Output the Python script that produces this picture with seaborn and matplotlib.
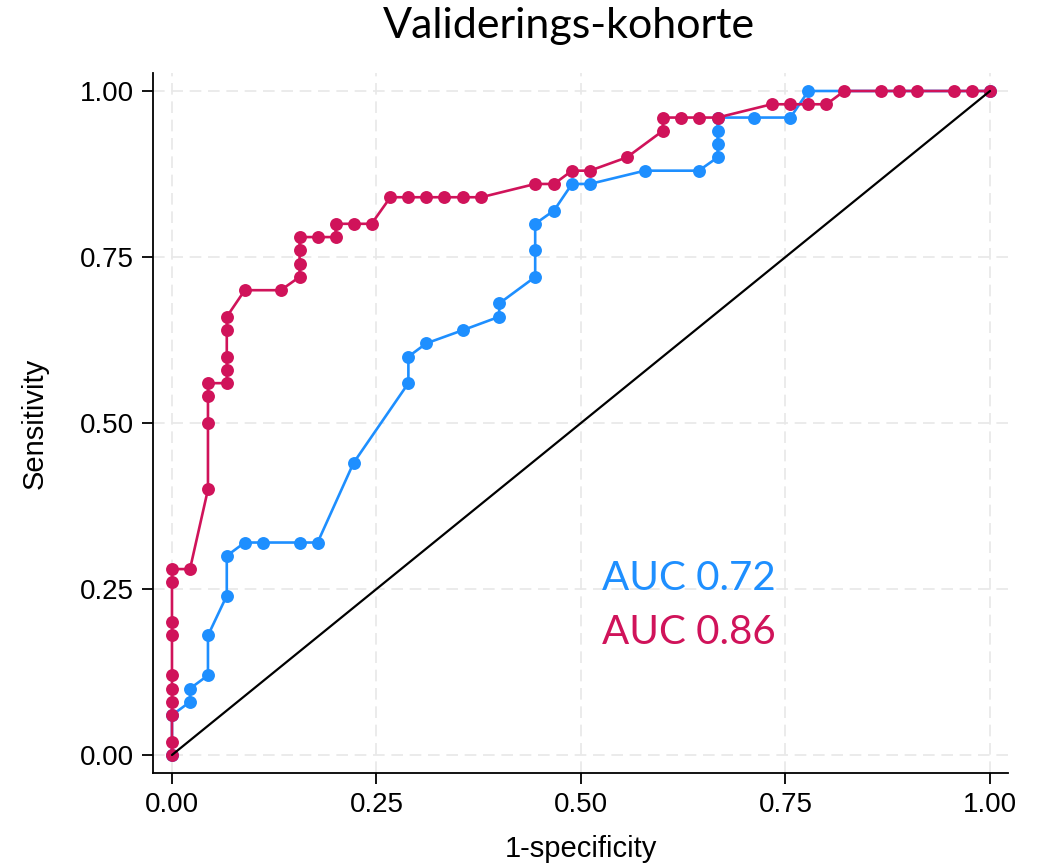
import matplotlib
matplotlib.use("Agg")
import matplotlib.pyplot as plt
import seaborn as sns
import pandas as pd

# ROC curve points (1-specificity, sensitivity)
red_fpr = [0.0, 0.0, 0.0, 0.0, 0.0, 0.0, 0.0, 0.0, 0.0, 0.0,
           0.022, 0.044, 0.044, 0.044, 0.044, 0.067, 0.067, 0.067, 0.067, 0.067,
           0.089, 0.133, 0.156, 0.156, 0.156, 0.156, 0.178, 0.2, 0.2, 0.222,
           0.244, 0.267, 0.289, 0.311, 0.333, 0.356, 0.378, 0.444, 0.467, 0.489,
           0.511, 0.556, 0.6, 0.6, 0.622, 0.644, 0.667, 0.733, 0.756, 0.778,
           0.8, 0.822, 0.867, 0.889, 0.911, 0.956, 0.978, 1.0]
red_tpr = [0.0, 0.02, 0.06, 0.08, 0.10, 0.12, 0.18, 0.20, 0.26, 0.28,
           0.28, 0.40, 0.50, 0.54, 0.56, 0.56, 0.58, 0.60, 0.64, 0.66,
           0.70, 0.70, 0.72, 0.74, 0.76, 0.78, 0.78, 0.78, 0.80, 0.80,
           0.80, 0.84, 0.84, 0.84, 0.84, 0.84, 0.84, 0.86, 0.86, 0.88,
           0.88, 0.90, 0.94, 0.96, 0.96, 0.96, 0.96, 0.98, 0.98, 0.98,
           0.98, 1.0, 1.0, 1.0, 1.0, 1.0, 1.0, 1.0]

blue_fpr = [0.0, 0.0, 0.022, 0.022, 0.044, 0.044, 0.067, 0.067, 0.089, 0.111,
            0.156, 0.178, 0.222, 0.289, 0.289, 0.311, 0.356, 0.4, 0.4, 0.444,
            0.444, 0.444, 0.467, 0.489, 0.511, 0.578, 0.644, 0.667, 0.667, 0.667,
            0.667, 0.711, 0.756, 0.778, 1.0]
blue_tpr = [0.0, 0.06, 0.08, 0.10, 0.12, 0.18, 0.24, 0.30, 0.32, 0.32,
            0.32, 0.32, 0.44, 0.56, 0.60, 0.62, 0.64, 0.66, 0.68, 0.72,
            0.76, 0.80, 0.82, 0.86, 0.86, 0.88, 0.88, 0.90, 0.92, 0.94,
            0.96, 0.96, 0.96, 1.0, 1.0]

ref_line = [0.0, 1.0]
ticks = [0.0, 0.25, 0.5, 0.75, 1.0]
tick_labels = ["0.00", "0.25", "0.50", "0.75", "1.00"]

title = "Validerings-kohorte"
auc_blue = "AUC 0.72"
auc_red = "AUC 0.86"

BLUE = "#1E8FFF"
RED = "#D0135A"

sns.set_theme(style="white")
plt.rcParams["font.family"] = ["Liberation Sans", "DejaVu Sans"]
plt.rcParams["text.color"] = "black"
plt.rcParams["axes.labelcolor"] = "black"
plt.rcParams["xtick.color"] = "black"
plt.rcParams["ytick.color"] = "black"

fig = plt.figure(figsize=(10.48, 8.63), dpi=100)
ax = fig.add_axes([153 / 1048, 1 - 773 / 863, (1008 - 153) / 1048, (773 - 73) / 863])

df_blue = pd.DataFrame({"x": blue_fpr, "y": blue_tpr})
df_red = pd.DataFrame({"x": red_fpr, "y": red_tpr})
df_ref = pd.DataFrame({"x": ref_line, "y": ref_line})

sns.lineplot(data=df_blue, x="x", y="y", ax=ax, sort=False, estimator=None,
             color=BLUE, linewidth=1.9, marker="o", markersize=9.3,
             markeredgewidth=0, zorder=3)
sns.lineplot(data=df_red, x="x", y="y", ax=ax, sort=False, estimator=None,
             color=RED, linewidth=1.9, marker="o", markersize=9.3,
             markeredgewidth=0, zorder=4)
sns.lineplot(data=df_ref, x="x", y="y", ax=ax, sort=False, estimator=None,
             color="black", linewidth=1.6, zorder=5)

ax.set_xlim(-0.0232, 1.0220)
ax.set_ylim(-0.0271, 1.0271)
ax.set_xticks(ticks)
ax.set_xticklabels(tick_labels)
ax.set_yticks(ticks)
ax.set_yticklabels(tick_labels)
ax.tick_params(axis="both", which="major", labelsize=20, length=8, width=1.3,
               color="black", labelcolor="black", direction="out",
               bottom=True, left=True, pad=6)
ax.grid(True, color="#e8e8e8", linestyle=(0, (7, 4)), linewidth=1.2)
for s in ["top", "right"]:
    ax.spines[s].set_visible(False)
for s in ["left", "bottom"]:
    ax.spines[s].set_color("black")
    ax.spines[s].set_linewidth(1.3)

ax.set_xlabel("1-specificity", fontsize=21, labelpad=12, color="black")
ax.set_ylabel("Sensitivity", fontsize=21, labelpad=22, color="black")

fig.text(0.543, 1 - 38 / 863, title, ha="center", va="baseline",
         fontsize=31, family=["Lato", "DejaVu Sans"], color="black")

ax.text(0.526, 0.248, auc_blue, color=BLUE, fontsize=29,
        family=["Lato", "DejaVu Sans"], va="baseline", ha="left")
ax.text(0.526, 0.167, auc_red, color=RED, fontsize=29,
        family=["Lato", "DejaVu Sans"], va="baseline", ha="left")

fig.savefig("out.png", dpi=100, facecolor="white")
